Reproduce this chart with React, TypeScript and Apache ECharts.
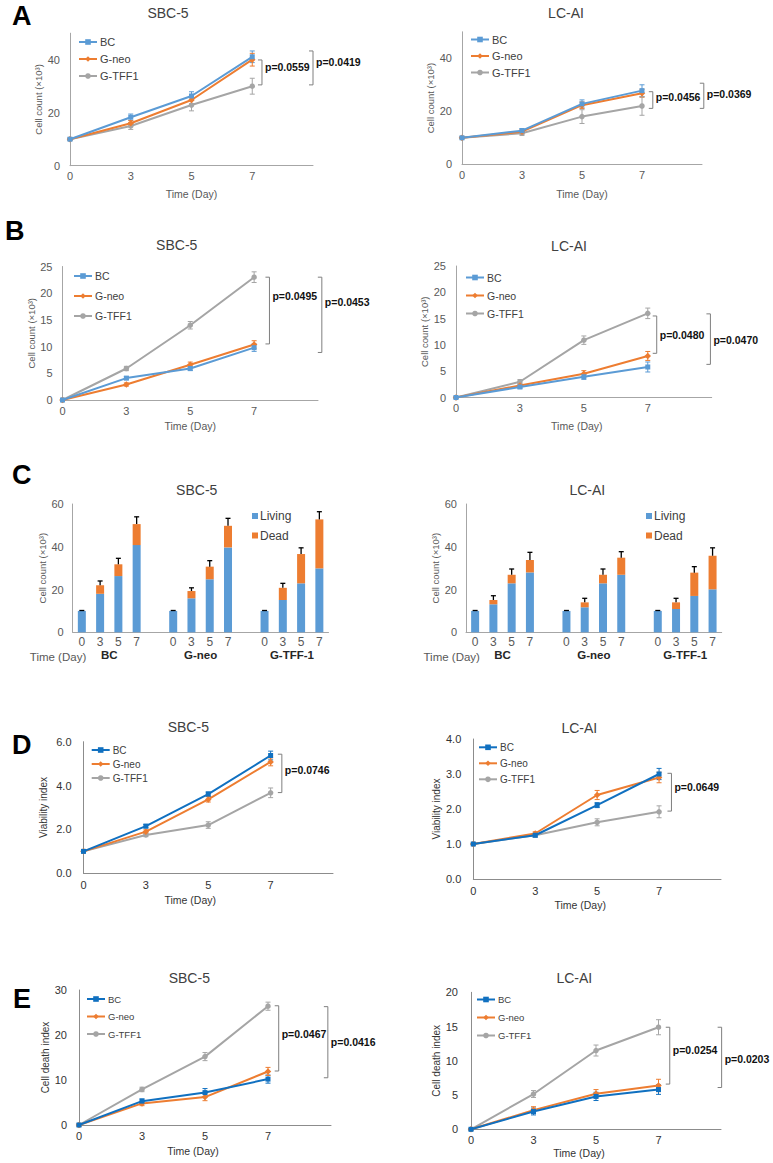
import React, { useEffect, useRef } from 'react';
import * as echarts from 'echarts';

// ---------- categories / tick labels ----------
const dayLabels = ['0', '3', '5', '7', ''];
const groupNames = ['BC', 'G-neo', 'G-TFF1'];
const barDayLabels = ['0', '3', '5', '7'];
const barGroupLabels = ['BC', 'G-neo', 'G-TFF-1'];
const stackNames = ['Living', 'Dead'];

// ---------- A : cell count ----------
const aSbcBC = [10, 18.3, 26.3, 41.1];
const aSbcNeo = [10, 16, 24.8, 40];
const aSbcTFF = [10, 15, 22.9, 30];
const aSbcErrBC = [0.4, 1.2, 1.6, 2.2];
const aSbcErrNeo = [0.3, 1.0, 1.5, 2.4];
const aSbcErrTFF = [0.4, 1.3, 2.2, 3.0];
const aLcBC = [10, 12.7, 22.8, 27.8];
const aLcNeo = [10, 12.3, 22.3, 26.8];
const aLcTFF = [10, 11.7, 18, 22];
const aLcErrBC = [0.3, 0.8, 1.5, 2.2];
const aLcErrNeo = [0.3, 0.8, 1.2, 1.5];
const aLcErrTFF = [0.3, 0.8, 2.6, 3.5];
const pA1 = ['p=0.0559', 'p=0.0419'];
const spanA1 = [[39.9, 30.5], [43.3, 30.5]];
const pA2 = ['p=0.0456', 'p=0.0369'];
const spanA2 = [[27.4, 21.1], [30.6, 21.1]];

// ---------- B : cell count ----------
const bSbcBC = [0, 4.1, 5.9, 9.8];
const bSbcNeo = [0, 2.9, 6.6, 10.4];
const bSbcTFF = [0, 5.9, 14, 23];
const bSbcErrBC = [0.1, 0.3, 0.4, 0.7];
const bSbcErrNeo = [0.1, 0.3, 0.5, 0.7];
const bSbcErrTFF = [0.1, 0.4, 0.7, 1.0];
const bLcBC = [0, 2, 3.95, 5.8];
const bLcNeo = [0, 2.3, 4.5, 7.9];
const bLcTFF = [0, 3, 10.9, 16];
const bLcErrBC = [0.1, 0.3, 0.5, 0.95];
const bLcErrNeo = [0.1, 0.3, 0.6, 0.85];
const bLcErrTFF = [0.1, 0.4, 0.8, 1.0];
const pB1 = ['p=0.0495', 'p=0.0453'];
const spanB1 = [[23, 10.5], [23, 8.9]];
const pB2 = ['p=0.0480', 'p=0.0470'];
const spanB2 = [[15.5, 8.4], [15.9, 6.3]];

// ---------- C : living / dead ----------
const cSbcLivingBC = [10, 18, 26.3, 40.8];
const cSbcLivingNeo = [10, 15.9, 24.8, 39.7];
const cSbcLivingTFF = [10, 15.1, 22.9, 29.9];
const cSbcDeadBC = [0, 4, 5.5, 9.8];
const cSbcDeadNeo = [0, 3.4, 5.9, 10.1];
const cSbcDeadTFF = [0, 5.7, 13.7, 22.9];
const cSbcErrBC = [0.2, 2, 2.8, 3.4];
const cSbcErrNeo = [0.2, 1.5, 2.8, 3.5];
const cSbcErrTFF = [0.2, 2.1, 2.9, 3.6];
const cLcLivingBC = [10, 13.1, 22.9, 28];
const cLcLivingNeo = [10, 11.7, 22.9, 26.9];
const cLcLivingTFF = [10, 10.9, 17, 20.1];
const cLcDeadBC = [0, 2, 4, 5.8];
const cLcDeadNeo = [0, 2.3, 4, 8];
const cLcDeadTFF = [0, 3.1, 10.9, 15.7];
const cLcErrBC = [0.2, 2, 2.7, 3.6];
const cLcErrNeo = [0.2, 1.9, 2.7, 2.8];
const cLcErrTFF = [0.2, 1.9, 2.8, 3.7];

// ---------- D : viability index ----------
const dSbcBC = [1.0, 2.15, 3.61, 5.37];
const dSbcNeo = [1.0, 1.9, 3.37, 5.08];
const dSbcTFF = [1.0, 1.75, 2.2, 3.67];
const dSbcErrBC = [0.02, 0.08, 0.1, 0.2];
const dSbcErrNeo = [0.02, 0.08, 0.12, 0.18];
const dSbcErrTFF = [0.02, 0.08, 0.15, 0.22];
const dLcBC = [1.0, 1.25, 2.11, 3.0];
const dLcNeo = [1.0, 1.3, 2.4, 2.9];
const dLcTFF = [1.0, 1.25, 1.62, 1.92];
const dLcErrBC = [0.02, 0.05, 0.07, 0.16];
const dLcErrNeo = [0.02, 0.05, 0.13, 0.15];
const dLcErrTFF = [0.02, 0.05, 0.1, 0.17];
const pD1 = ['p=0.0746'];
const spanD1 = [[5.43, 3.68]];
const pD2 = ['p=0.0649'];
const spanD2 = [[3.02, 1.94]];

// ---------- E : cell death index ----------
const eSbcBC = [0, 5.3, 7.2, 10.2];
const eSbcNeo = [0, 4.8, 6.2, 11.9];
const eSbcTFF = [0, 7.9, 15.2, 26.4];
const eSbcErrBC = [0.2, 0.5, 0.9, 0.9];
const eSbcErrNeo = [0.2, 0.5, 0.8, 0.9];
const eSbcErrTFF = [0.2, 0.5, 0.9, 0.9];
const eLcBC = [0, 2.6, 4.8, 5.8];
const eLcNeo = [0, 2.8, 5.2, 6.4];
const eLcTFF = [0, 5.15, 11.5, 14.9];
const eLcErrBC = [0.1, 0.5, 0.6, 0.7];
const eLcErrNeo = [0.1, 0.5, 0.6, 0.9];
const eLcErrTFF = [0.1, 0.5, 0.8, 1.1];
const pE1 = ['p=0.0467', 'p=0.0416'];
const spanE1 = [[26.5, 12], [26.3, 10.5]];
const pE2 = ['p=0.0254', 'p=0.0203'];
const spanE2 = [[14.9, 6.6], [14.9, 6.1]];

// ---------- styles ----------
const FONT = '"Liberation Sans", Arial, sans-serif';
const BLUE_LIGHT = '#5B9BD5';
const BLUE_DARK = '#1070C0';
const ORANGE = '#ED7D31';
const GRAY = '#A5A5A5';
const AXIS_LIGHT = '#a6a6a6';
const AXIS_DARK = '#8c8c8c';

function lineErr(color: string) {
  return (params: any, api: any) => {
    const x = api.value(0);
    const y = api.value(1);
    const e = api.value(2);
    const hi = api.coord([x, y + e]);
    const lo = api.coord([x, y - e]);
    const st = { stroke: color, lineWidth: 1 };
    return {
      type: 'group',
      children: [
        { type: 'line', shape: { x1: hi[0], y1: hi[1], x2: lo[0], y2: lo[1] }, style: st },
        { type: 'line', shape: { x1: hi[0] - 2.5, y1: hi[1], x2: hi[0] + 2.5, y2: hi[1] }, style: st },
        { type: 'line', shape: { x1: lo[0] - 2.5, y1: lo[1], x2: lo[0] + 2.5, y2: lo[1] }, style: st },
      ],
    };
  };
}

function barErr(params: any, api: any) {
  const x = api.value(0);
  const y = api.value(1);
  const e = api.value(2);
  const top = api.coord([x, y + e]);
  const base = api.coord([x, y]);
  const st = { stroke: '#000', lineWidth: 1.3 };
  return {
    type: 'group',
    children: [
      { type: 'line', shape: { x1: top[0], y1: top[1], x2: base[0], y2: base[1] }, style: st },
      { type: 'line', shape: { x1: top[0] - 2.5, y1: top[1], x2: top[0] + 2.5, y2: top[1] }, style: st },
    ],
  };
}

type LineCfg = {
  key: string;
  rect: number[];
  yMax: number;
  yStep: number;
  decimals: number;
  yName: string;
  yNameGap: number;
  yNameSize: number;
  xNameGap: number;
  xNameShift: number;
  values: number[][];
  errors: number[][];
  bc: string;
  axisColor: string;
  labelColor: string;
  labelMargin: number;
  yLabelMargin: number;
  legendLeft: number;
  legendTop: number;
  legendGap: number;
  legendFont: number;
  pTexts: string[];
  spans: number[][];
  at: number[];
  dy: number[];
};

function addLinePanel(opt: any, c: LineCfg) {
  const gi = opt.grid.length;
  opt.grid.push({ left: c.rect[0], top: c.rect[1], width: c.rect[2], height: c.rect[3] });
  const xi = opt.xAxis.length;
  opt.xAxis.push({
    gridIndex: gi,
    type: 'category',
    position: 'bottom',
    data: dayLabels,
    boundaryGap: false,
    axisTick: { show: false },
    axisLine: { lineStyle: { color: c.axisColor, width: 1 } },
    axisLabel: { interval: 0, margin: c.labelMargin, fontSize: 11, color: c.labelColor, fontFamily: FONT },
    name: 'Time (Day)',
    nameLocation: 'middle',
    nameGap: c.xNameGap,
    nameTextStyle: { fontSize: 10.5, color: c.labelColor, fontFamily: FONT, padding: [0, c.xNameShift * 2, 0, 0] },
  });
  const yi = opt.yAxis.length;
  opt.yAxis.push({
    gridIndex: gi,
    type: 'value',
    min: 0,
    max: c.yMax,
    interval: c.yStep,
    splitLine: { show: false },
    axisTick: { show: false },
    axisLine: { show: true, lineStyle: { color: c.axisColor, width: 1 } },
    axisLabel: {
      showMaxLabel: c.yMax % c.yStep === 0,
      margin: c.yLabelMargin,
      fontSize: 11,
      color: c.labelColor,
      fontFamily: FONT,
      formatter: (v: number) => v.toFixed(c.decimals),
    },
    name: c.yName,
    nameLocation: 'middle',
    nameGap: c.yNameGap,
    nameTextStyle: { fontSize: c.yNameSize, color: c.labelColor, fontFamily: FONT },
  });
  const colors = [c.bc, ORANGE, GRAY];
  const symbols = ['rect', 'diamond', 'circle'];
  const sizes = [5, 6.5, 5.5];
  groupNames.forEach((nm, s) => {
    opt.series.push({
      type: 'line',
      name: `${c.key}|${nm}`,
      xAxisIndex: xi,
      yAxisIndex: yi,
      data: c.values[s],
      symbol: symbols[s],
      symbolSize: sizes[s],
      showSymbol: true,
      lineStyle: { color: colors[s], width: 2 },
      itemStyle: { color: colors[s] },
      z: 3 + (2 - s),
    });
    opt.series.push({
      type: 'custom',
      name: `${c.key}|${nm}|err`,
      xAxisIndex: xi,
      yAxisIndex: yi,
      silent: true,
      data: c.values[s].map((v, k) => [k, v, c.errors[s][k]]),
      encode: { x: 0, y: 1 },
      renderItem: lineErr(colors[s]),
      z: 2,
    });
  });
  opt.series.push({
    type: 'custom',
    name: `${c.key}|brackets`,
    xAxisIndex: xi,
    yAxisIndex: yi,
    silent: true,
    data: c.spans.map((sp) => [3, sp[0], sp[1]]),
    encode: { x: 0, y: [1, 2] },
    z: 6,
    renderItem: (params: any, api: any) => {
      const j = params.dataIndex;
      const band = api.size([1, 0])[0];
      const p1 = api.coord([api.value(0), api.value(1)]);
      const p2 = api.coord([api.value(0), api.value(2)]);
      const x = p1[0] + c.at[j] * band;
      return {
        type: 'group',
        children: [
          {
            type: 'polyline',
            shape: { points: [[x - 4, p1[1]], [x, p1[1]], [x, p2[1]], [x - 4, p2[1]]] },
            style: { stroke: '#7f7f7f', lineWidth: 1, fill: null },
          },
          {
            type: 'text',
            x: x + 3,
            y: (p1[1] + p2[1]) / 2 + c.dy[j],
            style: {
              text: c.pTexts[j],
              fill: '#111',
              fontSize: 10.5,
              fontWeight: 'bold',
              fontFamily: FONT,
              align: 'left',
              verticalAlign: 'middle',
            },
          },
        ],
      };
    },
  });
  opt.legend.push({
    data: groupNames.map((n) => `${c.key}|${n}`),
    formatter: (n: string) => n.split('|')[1],
    orient: 'vertical',
    left: c.legendLeft,
    top: c.legendTop,
    padding: 0,
    itemGap: c.legendGap,
    itemWidth: 18,
    itemHeight: 7,
    selectedMode: false,
    textStyle: { fontSize: c.legendFont, color: '#404040', fontFamily: FONT, padding: [0, 0, 0, -2] },
  });
}

type BarCfg = {
  key: string;
  rect: number[];
  living: number[][];
  dead: number[][];
  err: number[][];
  yNameGap: number;
  legendLeft: number;
  legendTop: number;
};

function addBarPanel(opt: any, c: BarCfg) {
  const gi = opt.grid.length;
  opt.grid.push({ left: c.rect[0], top: c.rect[1], width: c.rect[2], height: c.rect[3] });
  const cats: string[] = [];
  c.living.forEach((g, gIdx) => {
    if (gIdx) cats.push('');
    cats.push(...barDayLabels);
  });
  const flat = (arrs: number[][]) => {
    const out: (number | null)[] = [];
    arrs.forEach((a, gIdx) => {
      if (gIdx) out.push(null);
      out.push(...a);
    });
    return out;
  };
  const liv = flat(c.living);
  const dead = flat(c.dead);
  const err = flat(c.err);
  const xi = opt.xAxis.length;
  opt.xAxis.push({
    gridIndex: gi,
    type: 'category',
    position: 'bottom',
    data: cats,
    boundaryGap: true,
    axisTick: { show: false },
    axisLine: { lineStyle: { color: AXIS_LIGHT, width: 1 } },
    axisLabel: { interval: 0, margin: 4, fontSize: 12, color: '#595959', fontFamily: FONT },
  });
  const slots: string[] = [];
  for (let k = 0; k < cats.length * 2 + 1; k++) slots.push('');
  barGroupLabels.forEach((lab, gIdx) => {
    const center = gIdx * (barDayLabels.length + 1) + (barDayLabels.length - 1) / 2;
    slots[Math.round(center * 2 + 1)] = lab;
  });
  opt.xAxis.push({
    gridIndex: gi,
    type: 'category',
    position: 'bottom',
    data: slots,
    boundaryGap: false,
    axisTick: { show: false },
    axisLine: { show: false },
    axisLabel: { interval: 0, margin: 17, fontSize: 11.5, fontWeight: 'bold', color: '#262626', fontFamily: FONT },
  });
  const yi = opt.yAxis.length;
  opt.yAxis.push({
    gridIndex: gi,
    type: 'value',
    min: 0,
    max: 60,
    interval: 20,
    splitLine: { show: false },
    axisTick: { show: false },
    axisLine: { show: true, lineStyle: { color: AXIS_LIGHT, width: 1 } },
    axisLabel: { margin: 9, fontSize: 11, color: '#595959', fontFamily: FONT },
    name: 'Cell count (×10³)',
    nameLocation: 'middle',
    nameGap: c.yNameGap,
    nameTextStyle: { fontSize: 9.5, color: '#595959', fontFamily: FONT },
  });
  opt.series.push({
    type: 'bar',
    name: `${c.key}|${stackNames[0]}`,
    xAxisIndex: xi,
    yAxisIndex: yi,
    stack: c.key,
    barWidth: 8,
    data: liv,
    itemStyle: { color: BLUE_LIGHT },
  });
  opt.series.push({
    type: 'bar',
    name: `${c.key}|${stackNames[1]}`,
    xAxisIndex: xi,
    yAxisIndex: yi,
    stack: c.key,
    barWidth: 8,
    data: dead,
    itemStyle: { color: ORANGE },
  });
  const errData: number[][] = [];
  liv.forEach((v, k) => {
    if (v != null) errData.push([k, v + (dead[k] as number), err[k] as number]);
  });
  opt.series.push({
    type: 'custom',
    name: `${c.key}|err`,
    xAxisIndex: xi,
    yAxisIndex: yi,
    silent: true,
    data: errData,
    encode: { x: 0, y: 1 },
    renderItem: barErr,
    z: 5,
  });
  opt.legend.push({
    data: stackNames.map((n) => `${c.key}|${n}`),
    formatter: (n: string) => n.split('|')[1],
    orient: 'vertical',
    left: c.legendLeft,
    top: c.legendTop,
    padding: 0,
    itemGap: 7.5,
    itemWidth: 6,
    itemHeight: 6,
    icon: 'rect',
    selectedMode: false,
    textStyle: { fontSize: 12, color: '#404040', fontFamily: FONT, padding: [0, 0, 0, -3] },
  });
}

function buildOption() {
  const opt: any = {
    animation: false,
    backgroundColor: '#fff',
    textStyle: { fontFamily: FONT },
    grid: [],
    xAxis: [],
    yAxis: [],
    series: [],
    legend: [],
    graphic: [],
  };

  const commonLight = { axisColor: AXIS_LIGHT, labelColor: '#595959' };
  const commonDark = { axisColor: AXIS_DARK, labelColor: '#333333' };

  addLinePanel(opt, {
    key: 'A1', rect: [70, 33.2, 243, 132.5], yMax: 50, yStep: 20, decimals: 0,
    yName: 'Cell count (×10³)', yNameGap: 24, yNameSize: 9.5, xNameGap: 23, xNameShift: 0,
    values: [aSbcBC, aSbcNeo, aSbcTFF], errors: [aSbcErrBC, aSbcErrNeo, aSbcErrTFF], bc: BLUE_LIGHT,
    ...commonLight, labelMargin: 5, yLabelMargin: 10,
    legendLeft: 78, legendTop: 36.5, legendGap: 6, legendFont: 11,
    pTexts: pA1, spans: spanA1, at: [0.16, 1.0], dy: [-5.5, -6],
  });
  addLinePanel(opt, {
    key: 'A2', rect: [462, 31.8, 240, 132.5], yMax: 50, yStep: 20, decimals: 0,
    yName: 'Cell count (×10³)', yNameGap: 26, yNameSize: 9.5, xNameGap: 24, xNameShift: 0,
    values: [aLcBC, aLcNeo, aLcTFF], errors: [aLcErrBC, aLcErrNeo, aLcErrTFF], bc: BLUE_LIGHT,
    ...commonLight, labelMargin: 5, yLabelMargin: 10,
    legendLeft: 470, legendTop: 34, legendGap: 5.5, legendFont: 11,
    pTexts: pA2, spans: spanA2, at: [0.18, 1.03], dy: [-3, -1.5],
  });
  addLinePanel(opt, {
    key: 'B1', rect: [62.5, 266.5, 255.5, 133.5], yMax: 25, yStep: 5, decimals: 0,
    yName: 'Cell count (×10³)', yNameGap: 23, yNameSize: 9.5, xNameGap: 20.5, xNameShift: 0,
    values: [bSbcBC, bSbcNeo, bSbcTFF], errors: [bSbcErrBC, bSbcErrNeo, bSbcErrTFF], bc: BLUE_LIGHT,
    ...commonLight, labelMargin: 5, yLabelMargin: 10,
    legendLeft: 73, legendTop: 270.5, legendGap: 9, legendFont: 10.5,
    pTexts: pB1, spans: spanB1, at: [0.24, 1.06], dy: [-14.7, -13],
  });
  addLinePanel(opt, {
    key: 'B2', rect: [456, 266, 255.7, 131.5], yMax: 25, yStep: 5, decimals: 0,
    yName: 'Cell count (×10³)', yNameGap: 22, yNameSize: 9.5, xNameGap: 23, xNameShift: 7,
    values: [bLcBC, bLcNeo, bLcTFF], errors: [bLcErrBC, bLcErrNeo, bLcErrTFF], bc: BLUE_LIGHT,
    ...commonLight, labelMargin: 5, yLabelMargin: 10,
    legendLeft: 465, legendTop: 272, legendGap: 7, legendFont: 10.5,
    pTexts: pB2, spans: spanB2, at: [0.14, 0.98], dy: [0, 1],
  });

  addBarPanel(opt, {
    key: 'C1', rect: [72.7, 504, 255.8, 128.3],
    living: [cSbcLivingBC, cSbcLivingNeo, cSbcLivingTFF],
    dead: [cSbcDeadBC, cSbcDeadNeo, cSbcDeadTFF],
    err: [cSbcErrBC, cSbcErrNeo, cSbcErrTFF],
    yNameGap: 24, legendLeft: 252, legendTop: 510,
  });
  addBarPanel(opt, {
    key: 'C2', rect: [466, 504, 255.7, 128.3],
    living: [cLcLivingBC, cLcLivingNeo, cLcLivingTFF],
    dead: [cLcDeadBC, cLcDeadNeo, cLcDeadTFF],
    err: [cLcErrBC, cLcErrNeo, cLcErrTFF],
    yNameGap: 26, legendLeft: 646, legendTop: 510,
  });

  addLinePanel(opt, {
    key: 'D1', rect: [83.5, 741.7, 249.5, 131.6], yMax: 6, yStep: 2, decimals: 1,
    yName: 'Viability index', yNameGap: 35, yNameSize: 10, xNameGap: 21, xNameShift: 18,
    values: [dSbcBC, dSbcNeo, dSbcTFF], errors: [dSbcErrBC, dSbcErrNeo, dSbcErrTFF], bc: BLUE_DARK,
    ...commonDark, labelMargin: 6, yLabelMargin: 12,
    legendLeft: 90.7, legendTop: 745, legendGap: 4, legendFont: 10,
    pTexts: pD1, spans: spanD1, at: [0.18], dy: [-3.5],
  });
  addLinePanel(opt, {
    key: 'D2', rect: [473.3, 739, 247.7, 140], yMax: 4, yStep: 1, decimals: 1,
    yName: 'Viability index', yNameGap: 32, yNameSize: 10, xNameGap: 20, xNameShift: 17,
    values: [dLcBC, dLcNeo, dLcTFF], errors: [dLcErrBC, dLcErrNeo, dLcErrTFF], bc: BLUE_DARK,
    ...commonDark, labelMargin: 6, yLabelMargin: 12,
    legendLeft: 478, legendTop: 742.3, legendGap: 6, legendFont: 10,
    pTexts: pD2, spans: spanD2, at: [0.2], dy: [-5],
  });
  addLinePanel(opt, {
    key: 'E1', rect: [79, 990, 252, 135], yMax: 30, yStep: 10, decimals: 0,
    yName: 'Cell death index', yNameGap: 25, yNameSize: 10, xNameGap: 20, xNameShift: 12,
    values: [eSbcBC, eSbcNeo, eSbcTFF], errors: [eSbcErrBC, eSbcErrNeo, eSbcErrTFF], bc: BLUE_DARK,
    ...commonDark, labelMargin: 5, yLabelMargin: 12,
    legendLeft: 86, legendTop: 994, legendGap: 7.5, legendFont: 9.5,
    pTexts: pE1, spans: spanE1, at: [0.17, 0.95], dy: [-4, 0],
  });
  addLinePanel(opt, {
    key: 'E2', rect: [471, 992.3, 250, 137], yMax: 20, yStep: 5, decimals: 0,
    yName: 'Cell death index', yNameGap: 26, yNameSize: 10, xNameGap: 18.5, xNameShift: 17,
    values: [eLcBC, eLcNeo, eLcTFF], errors: [eLcErrBC, eLcErrNeo, eLcErrTFF], bc: BLUE_DARK,
    ...commonDark, labelMargin: 5, yLabelMargin: 13,
    legendLeft: 476, legendTop: 994.5, legendGap: 8, legendFont: 9.5,
    pTexts: pE2, spans: spanE2, at: [0.18, 1.01], dy: [-6, 2],
  });

  const titles: [string, number, number][] = [
    ['SBC-5', 168, 13], ['LC-AI', 566, 13],
    ['SBC-5', 176.7, 245], ['LC-AI', 569, 246],
    ['SBC-5', 196.7, 490], ['LC-AI', 587.3, 490],
    ['SBC-5', 188.3, 727.3], ['LC-AI', 579.3, 728.3],
    ['SBC-5', 189.3, 977.7], ['LC-AI', 574.3, 978.3],
  ];
  titles.forEach(([t, x, y]) => {
    opt.graphic.push({
      type: 'text', x, y,
      style: { text: t, fontSize: 14, fill: '#404040', fontFamily: FONT, align: 'center', verticalAlign: 'middle' },
    });
  });
  const letters: [string, number, number][] = [
    ['A', 12, 16], ['B', 5, 231], ['C', 12, 475], ['D', 12, 745], ['E', 13, 999],
  ];
  letters.forEach(([t, x, y]) => {
    opt.graphic.push({
      type: 'text', x, y,
      style: { text: t, fontSize: 27, fontWeight: 'bold', fill: '#000', fontFamily: FONT, align: 'left', verticalAlign: 'middle' },
    });
  });
  [[58, 656.7], [451.7, 656.7]].forEach(([x, y]) => {
    opt.graphic.push({
      type: 'text', x, y,
      style: { text: 'Time (Day)', fontSize: 11.5, fill: '#595959', fontFamily: FONT, align: 'center', verticalAlign: 'middle' },
    });
  });
  return opt;
}

export default function App() {
  const ref = useRef<HTMLDivElement>(null);
  useEffect(() => {
    if (!ref.current) return;
    const chart = echarts.init(ref.current, undefined, { renderer: 'svg' });
    chart.setOption(buildOption());
    return () => chart.dispose();
  }, []);
  return (
    <div
      ref={ref}
      style={{ position: 'absolute', left: 0, top: 0, width: 773, height: 1163, background: '#fff' }}
    />
  );
}
